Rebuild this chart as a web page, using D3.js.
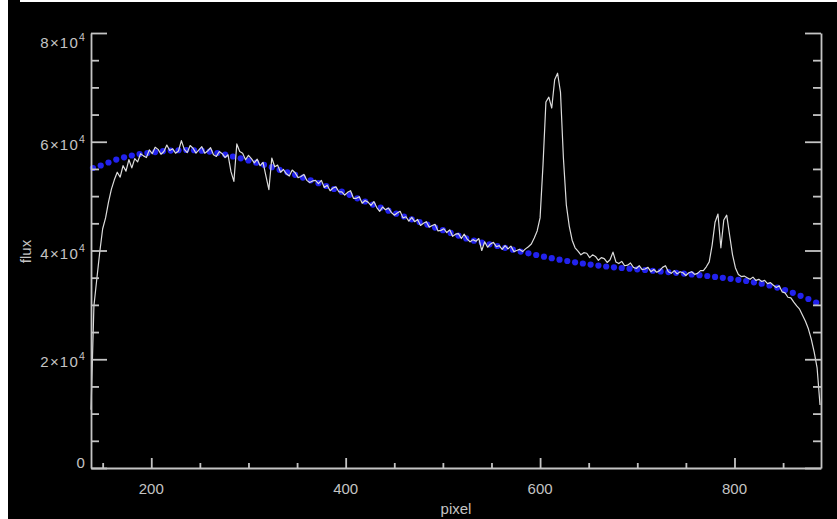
<!DOCTYPE html>
<html>
<head>
<meta charset="utf-8">
<script src="https://cdn.jsdelivr.net/npm/d3@7/dist/d3.min.js"></script>
<style>
  html, body { margin: 0; padding: 0; background: #fff; }
  svg { display: block; }
  text { font-family: "Liberation Sans", Arial, Helvetica, sans-serif; }
</style>
</head>
<body>
<svg id="chart" width="837" height="519"></svg>
<script>
// Spectrum sampled every 3 pixels, starting at pixel 138
const specStart = 138;
const specStep = 3;
const specFlux = [
  10700, 29800, 34800, 39700, 44000, 46000, 48900, 51300, 53000, 54400,
  53500, 55600, 54600, 56700, 55200,
  56900, 56300, 57800, 57400, 57100, 58500, 57800, 59000, 58600, 57700,
  58200, 59400, 58400, 58700, 57900, 58300, 60200, 58600, 58000, 59300,
  58800, 57900, 58500, 59100, 57900, 58300, 58900, 57600, 57300, 58200,
  57800, 57100, 57600,
  54500, 52700, 59600,
  58200, 57900, 56700, 57500, 56900, 56100, 56800, 55600, 56200,
  53700, 51200,
  57000, 55400, 55700, 54400, 54900, 54100, 53700, 54800,
  54300, 53400, 53600, 54000, 52900, 52500, 52800, 52900, 52300, 52900,
  51600, 52000, 51000, 51500, 51700, 50800, 50800, 50200, 50700, 51000,
  49600, 49600, 49900, 48700, 49200, 48900, 48300, 49000, 47900, 47200,
  48000, 47500, 47800, 47000, 46500, 46900, 47200, 46000, 46200, 45400,
  46100, 45300, 45700, 44600, 45000, 45300, 44300, 44600, 44800, 43600,
  43700, 44000, 43300, 43800, 42600, 43000, 43100, 42200, 43000, 42100,
  41600, 42000, 41700, 42200, 40000, 41600, 40600, 41200, 41500, 40700,
  40900, 40200, 40900, 40300, 40800, 39800, 40000, 40200, 39800, 40300,
  40700, 41200, 42300, 43600, 46000, 55700, 67300, 68200, 66200, 71400,
  72600, 69100, 57000, 48400, 44500, 41900, 40500,
  39900, 39200, 39600, 39500, 38700, 39200, 38900, 38200, 38700, 38500,
  37800, 38300, 39700, 37900, 37600, 38000, 37200, 37300, 37700, 36900,
  36700, 37200, 36500, 36600, 36900, 36100, 36500, 36000, 36300, 36900,
  37200, 36100, 35800, 36300, 35700, 36100, 35900, 35400, 35900, 36100,
  35600, 35800, 36300, 36300, 37000,
  37900, 41000, 45200, 46700, 40500, 45600, 46500, 42800, 39200, 36800,
  35600, 35200, 35300, 35000, 34700, 35100, 34500, 34700, 34300, 34500,
  33900, 34100, 33600, 33200, 33500,
  32400, 32200, 31400, 31300, 30500, 29800, 29200, 28100, 27000, 25600,
  23700, 21300, 18400, 11600
];

// Continuum fit, one point every 8 pixels from pixel 140
const contStart = 140;
const contStep = 8;
const contFlux = [
  55170, 55630, 56180, 56730, 57140, 57470, 57740, 57930, 58110, 58260,
  58370, 58440, 58480, 58440, 58350, 58190, 57930, 57650, 57290, 56950,
  56550, 56160, 55760, 55320, 54840, 54380, 53920, 53420, 52910, 52390,
  51860, 51310, 50810, 50240, 49600, 49010, 48440, 47870, 47320, 46770,
  46250, 45740, 45240, 44760, 44210, 43730, 43240, 42740, 42220, 41800,
  41450, 41140, 40830, 40500, 40150, 39810, 39480, 39170, 38860, 38580,
  38320, 38070, 37830, 37610, 37410, 37220, 37060, 36910, 36780, 36650,
  36540, 36410, 36280, 36160, 36030, 35900, 35750, 35600, 35460, 35310,
  35140, 34980, 34790, 34610, 34390, 34150, 33890, 33560, 33190, 32730,
  32220, 31670, 31080, 30440
];

// Axis ticks
const xMajorTicks = [200, 400, 600, 800];
const xMinorTicks = [150, 250, 300, 350, 450, 500, 550, 650, 700, 750, 850];
const yMajorTicks = [0, 20000, 40000, 60000, 80000];
const yMinorTicks = [5000, 10000, 15000, 25000, 30000, 35000, 45000, 50000, 55000, 65000, 70000, 75000];
const yTickLabels = [
  { v: 0, mant: "0", exp: "" },
  { v: 20000, mant: "2\u00d710", exp: "4" },
  { v: 40000, mant: "4\u00d710", exp: "4" },
  { v: 60000, mant: "6\u00d710", exp: "4" },
  { v: 80000, mant: "8\u00d710", exp: "4" }
];
const xLabel = "pixel";
const yLabel = "flux";

const W = 837, H = 519;
const plot = { left: 91, right: 821, top: 33, bottom: 468 };
const axisColor = "#c4c4c4";
const textColor = "#c4c4c4";

const svg = d3.select("#chart");

// white margin strip with the black plotting canvas
svg.append("rect").attr("width", W).attr("height", H).attr("fill", "#ffffff");
svg.append("rect").attr("x", 8).attr("y", 2).attr("width", W - 8).attr("height", H - 2).attr("fill", "#000000");
svg.append("rect").attr("x", 8).attr("y", 0).attr("width", 12).attr("height", 3).attr("fill", "#000000");

const x = d3.scaleLinear().domain([138, 889]).range([plot.left, plot.right]);
const y = d3.scaleLinear().domain([0, 80000]).range([plot.bottom, plot.top]);

const spec = specFlux.map((f, i) => [specStart + i * specStep, f]);
const cont = contFlux.map((f, i) => [contStart + i * contStep, f]);

// continuum points
svg.append("g")
  .selectAll("circle")
  .data(cont)
  .join("circle")
  .attr("cx", d => x(d[0]))
  .attr("cy", d => y(d[1]))
  .attr("r", 3.1)
  .attr("fill", "#2222ee");

// spectrum trace
svg.append("path")
  .datum(spec)
  .attr("fill", "none")
  .attr("stroke", "#dcdcdc")
  .attr("stroke-width", 1.2)
  .attr("stroke-linejoin", "round")
  .attr("d", d3.line().x(d => x(d[0])).y(d => y(d[1])));

function styleAxis(g) {
  g.selectAll("path, line").attr("stroke", axisColor).attr("stroke-width", 1.8);
  g.selectAll("text").remove();
}

// bottom axis, ticks pointing up
svg.append("g")
  .attr("transform", `translate(0,${plot.bottom})`)
  .call(d3.axisBottom(x).tickValues(xMajorTicks).tickSizeInner(-10).tickSizeOuter(0).tickFormat(""))
  .call(styleAxis);
svg.append("g")
  .attr("transform", `translate(0,${plot.bottom})`)
  .call(d3.axisBottom(x).tickValues(xMinorTicks).tickSizeInner(-5).tickSizeOuter(0).tickFormat(""))
  .call(g => g.select(".domain").remove())
  .call(styleAxis);

// left and right axes, ticks pointing inward
[[d3.axisLeft, plot.left], [d3.axisRight, plot.right]].forEach(([axisFn, xpos]) => {
  svg.append("g")
    .attr("transform", `translate(${xpos},0)`)
    .call(axisFn(y).tickValues(yMajorTicks).tickSizeInner(-16).tickSizeOuter(0).tickFormat(""))
    .call(styleAxis);
  svg.append("g")
    .attr("transform", `translate(${xpos},0)`)
    .call(axisFn(y).tickValues(yMinorTicks).tickSizeInner(-8).tickSizeOuter(0).tickFormat(""))
    .call(g => g.select(".domain").remove())
    .call(styleAxis);
});

// x tick labels
svg.append("g")
  .selectAll("text")
  .data(xMajorTicks)
  .join("text")
  .attr("x", d => x(d))
  .attr("y", 493.5)
  .attr("text-anchor", "middle")
  .attr("font-size", 15)
  .attr("fill", textColor)
  .text(d => d);

// y tick labels with exponent
const yl = svg.append("g")
  .selectAll("text")
  .data(yTickLabels)
  .join("text")
  .attr("x", 86)
  .attr("y", d => d.exp ? Math.max(y(d.v) + 8, 48) : y(d.v))
  .attr("text-anchor", "end")
  .attr("font-size", 15)
  .attr("letter-spacing", 1.2)
  .attr("fill", textColor);
yl.append("tspan").text(d => d.mant);
yl.filter(d => d.exp).append("tspan")
  .attr("font-size", 10.5)
  .attr("dy", -7)
  .text(d => d.exp);

// axis titles
svg.append("text")
  .attr("x", (plot.left + plot.right) / 2)
  .attr("y", 514)
  .attr("text-anchor", "middle")
  .attr("font-size", 15)
  .attr("fill", textColor)
  .text(xLabel);

svg.append("text")
  .attr("transform", `translate(31,${(plot.top + plot.bottom) / 2 + 1}) rotate(-90)`)
  .attr("text-anchor", "middle")
  .attr("font-size", 15)
  .attr("fill", textColor)
  .text(yLabel);
</script>
</body>
</html>
